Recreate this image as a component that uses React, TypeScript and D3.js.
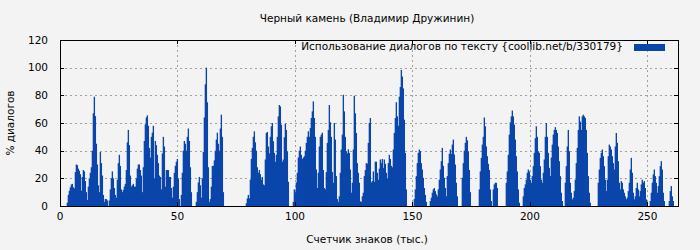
import React from "react";
import * as d3 from "d3";

const title = "Черный камень (Владимир Дружинин)";
const xLabel = "Счетчик знаков (тыс.)";
const yLabel = "% диалогов";
const legendLabel = "Использование диалогов по тексту {coollib.net/b/330179}";
const xTicks = [0, 50, 100, 150, 200, 250];
const yTicks = [0, 20, 40, 60, 80, 100, 120];
const xMax = 263;
const yMax = 120;
const step = 0.4255;
const segmentStarts = [2.85, 42.43, 85.83, 130.51, 172.64, 216.04];

const values1 = [2.4, 8, 11, 13.5, 15.5, 16, 13.5, 12.7, 24.5, 30, 29.5, 27, 25.5, 23, 11, 21, 26, 25, 18, 10, 4.3, 14, 20, 24, 28, 40, 67, 79, 65, 45, 30, 15, 10, 39, 31, 22, 8, 3, 5, 5, 4, 0, 4, 12, 20, 25, 20, 13, 8, 6, 19, 31, 37, 29, 12, 10, 11.5, 14, 16, 26, 46, 55, 44, 22, 14, 15, 16, 14, 14, 20, 27, 30, 30, 26, 22, 10, 28, 47, 59, 64, 65.5, 58, 42, 35, 50, 53, 58, 20, 47, 44, 37, 31, 22];
const values2 = [21, 12, 38, 50, 43, 14, 26, 26, 26, 21, 21, 13, 6, 14, 24, 29, 32, 34, 20, 5, 0, 8, 24, 40, 47, 45, 40, 50, 56, 47, 28, 10, 0, 0, 0, 0, 3, 10, 17, 21, 15, 6, 20, 39, 64, 88, 100, 75, 28, 3, 5, 14, 29, 29, 33, 40, 48, 53, 45, 40, 56, 66, 50, 10, 0, 0, 0, 0, 0, 0, 0, 0, 0, 0, 0, 0, 0, 0, 0, 0, 0, 0, 0, 0, 0, 0, 2, 5.5, 8, 5.5, 19, 34, 42, 50, 54, 46, 40, 28, 24, 26, 23, 19];
const values3 = [21, 15.6, 15, 33.6, 52.8, 53.5, 43, 38, 50, 57.6, 60, 46.8, 38.4, 32, 37, 50, 64.8, 73, 72, 58.8, 32, 33.6, 49.7, 59.5, 55, 39.6, 17.5, 0, 0, 0, 0, 3, 12, 10, 17, 24, 35, 40, 43, 37, 34, 35, 36, 40, 45.6, 50, 54, 50, 56.4, 63.6, 68.4, 75.6, 63.6, 50, 26.4, 13, 24, 43, 50, 51.6, 53, 26, 13, 12, 24.5, 45.6, 55, 73, 60.5, 50, 24.5, 16.8, 60, 48, 21.6, 5, 3, 7, 24, 40.8, 51.6, 80.4, 68.4, 50, 39.6, 38, 41, 38.4, 26.4, 9.6, 16.8, 40.8, 79.7, 67, 52.8, 31, 24, 16.8, 3.4, 3, 7, 9.6, 21.6, 26, 31];
const values4 = [30.5, 45.6, 60, 63.6, 17, 18, 25, 17.5, 32, 32, 24, 19, 27, 33.6, 31, 34, 27.6, 33.6, 30.5, 24, 20, 31, 37, 34, 29, 28, 40.8, 52.8, 63.6, 75, 64.8, 58, 79, 86, 98.4, 93.6, 85, 62.4, 38.4, 12, 0, 0, 0, 0, 0, 0, 0, 5, 12, 21.6, 31, 38.4, 40.8, 39.6, 31, 26.4, 20.4, 13, 8, 3, 0, 0, 0, 3.6, 6, 9.6, 12, 13, 10.8, 8.4, 7, 12, 19, 26.4, 32.4, 42, 29, 20.4, 13, 7, 21.6, 31, 37.7, 40.8, 37.7, 44.4, 48, 37.2, 30, 16.8, 7, 0, 0, 0, 0, 20.4, 31, 40, 45.6];
const values5 = [50, 47.5, 39.6, 26, 10, 0, 0, 0, 0, 0, 0, 0, 0, 12, 25, 34.8, 44.4, 50, 64, 57.6, 43, 36, 30.5, 26, 12, 3.6, 0, 12, 15.6, 16.8, 16.8, 13, 0, 0, 0, 0, 0, 0, 0, 0, 16.8, 25, 37, 51.6, 60.5, 64.8, 69, 64.8, 58.8, 48, 36, 25, 12, 2.4, 0, 0, 0, 7, 13, 15.6, 19, 24, 26.4, 25, 19, 16.8, 21.6, 28.8, 38.4, 49, 57.6, 50, 39.6, 38.4, 28.8, 19, 16.8, 24, 33.6, 50, 60, 50, 38.4, 27.6, 21.6, 35, 44.4, 51.6, 55, 57, 55, 52.8, 43, 32.4, 21.6, 9.6, 3.6, 0, 0, 16.8, 28.8, 43];
const values6 = [55, 39.6, 16.8, 9.6, 4.8, 6, 10.8, 19, 31, 42, 55, 64.8, 61, 55, 64.8, 66, 64.8, 63.6, 55, 38.4, 21.6, 9.6, 2.4, 0, 0, 0, 0, 0, 0, 0, 16.8, 26.4, 34.8, 38.4, 40.8, 36, 28.8, 19, 10.8, 19, 36, 44.4, 43, 40.8, 36, 31, 26.4, 43, 52.8, 45.6, 32.4, 16.8, 12, 18, 16.8, 12, 9.6, 7, 4.8, 6, 10.8, 16.8, 26.4, 34.8, 24, 9.6, 4.8, 7, 13, 16.8, 12, 7, 10.8, 15.6, 19, 16.8, 18, 13, 4.8, 0, 0, 0, 3.6, 9.6, 16.8, 22.8, 26.4, 21.6, 16.8, 9.6, 14.4, 21.6, 28.8, 32.4, 26.4, 9.6, 3.6, 0, 0, 0, 0, 3.6, 10.8, 14.4, 7, 3.6];

const segments = [values1, values2, values3, values4, values5, values6];

const FONT = "DejaVu Sans, Verdana, sans-serif";
const FS = 10.5;
const BAR = "#0a46aa";
const GRID = "#a0a0a0";

export default function App() {
  const W = 700;
  const H = 250;
  const left = 60, right = 678, top = 40, bottom = 206;
  const x = d3.scaleLinear().domain([0, xMax]).range([left, right]);
  const y = d3.scaleLinear().domain([0, yMax]).range([bottom, top]);

  const bars: { x0: number; w: number; v: number }[] = [];
  segments.forEach((vals, s) => {
    vals.forEach((v, i) => {
      const c = segmentStarts[s] + i * step;
      bars.push({ x0: x(c), w: x(c + step) - x(c), v });
    });
  });

  return (
    <svg width={W} height={H} style={{ position: "absolute", left: 0, top: 0, display: "block" }} fontFamily={FONT}>
      <rect x={0} y={0} width={W} height={H} fill="#f3f3f3" />
      {yTicks.filter((t) => t > 0 && t < yMax).map((t) => (
        <line key={"gy" + t} x1={left} x2={right} y1={Math.round(y(t)) + 0.5} y2={Math.round(y(t)) + 0.5} stroke={GRID} strokeWidth={1} strokeDasharray="2,3" />
      ))}
      {xTicks.filter((t) => t > 0).map((t) => (
        <line key={"gx" + t} x1={Math.round(x(t)) + 0.5} x2={Math.round(x(t)) + 0.5} y1={top} y2={bottom} stroke={GRID} strokeWidth={1} strokeDasharray="2,3" />
      ))}
      <g>
        {bars.filter((b) => b.v > 0).map((b, i) => (
          <rect key={i} x={b.x0} y={y(b.v)} width={b.w + 0.35} height={y(0) - y(b.v)} fill={BAR} />
        ))}
      </g>
      <rect x={left + 0.5} y={top + 0.5} width={right - left} height={bottom - top} fill="none" stroke="#000" strokeWidth={1} />
      {yTicks.map((t) => (
        <g key={"ty" + t}>
          <line x1={left} x2={left + 4} y1={Math.round(y(t)) + 0.5} y2={Math.round(y(t)) + 0.5} stroke="#000" />
          <line x1={right - 4} x2={right} y1={Math.round(y(t)) + 0.5} y2={Math.round(y(t)) + 0.5} stroke="#000" />
          <text x={48} y={y(t) + 3.7} textAnchor="end" fontSize={FS} fill="#000">{t}</text>
        </g>
      ))}
      {xTicks.map((t) => (
        <g key={"tx" + t}>
          <line x1={Math.round(x(t)) + 0.5} x2={Math.round(x(t)) + 0.5} y1={bottom - 4} y2={bottom} stroke="#000" />
          <line x1={Math.round(x(t)) + 0.5} x2={Math.round(x(t)) + 0.5} y1={top} y2={top + 4} stroke="#000" />
          <text x={x(t)} y={bottom + 14} textAnchor="middle" fontSize={FS} fill="#000">{t}</text>
        </g>
      ))}
      <text x={367} y={22} textAnchor="middle" fontSize={FS} fill="#000">{title}</text>
      <text x={367} y={243} textAnchor="middle" fontSize={FS} fill="#000">{xLabel}</text>
      <text transform={`translate(13.5,${(top + bottom) / 2}) rotate(-90)`} textAnchor="middle" fontSize={FS} fill="#000">{yLabel}</text>
      <text x={623} y={50} textAnchor="end" fontSize={FS} fill="#000">{legendLabel}</text>
      <rect x={634} y={44} width={31} height={7} fill={BAR} />
    </svg>
  );
}
